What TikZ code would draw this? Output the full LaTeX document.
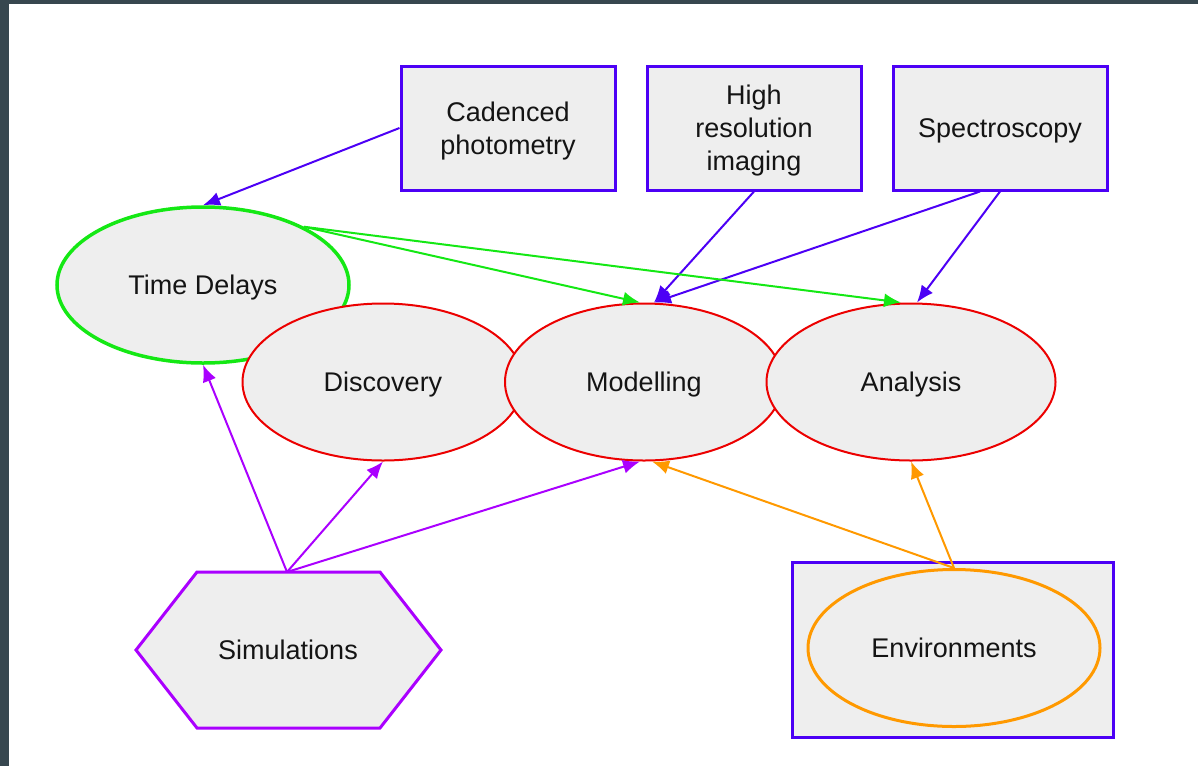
\documentclass[tikz,border=0pt]{standalone}
\usepackage{fontspec}
\setmainfont{Liberation Sans}
\usetikzlibrary{shapes.geometric,arrows.meta}
\definecolor{frame}{HTML}{37474F}
\definecolor{panel}{HTML}{EEEEEE}
\definecolor{boxblue}{RGB}{76,0,245}
\definecolor{tdgreen}{RGB}{20,232,20}
\definecolor{topicred}{RGB}{236,0,0}
\definecolor{simpurple}{RGB}{170,0,255}
\definecolor{envorange}{RGB}{255,153,0}
\begin{document}
\begin{tikzpicture}[x=0.5pt, y=-0.5pt,
		every node/.style={font=\fontsize{13.5}{16.5}\selectfont, align=center, inner sep=0pt, text depth=0pt, text=black!92},
		sourcebox/.style={draw=boxblue, line width=1.5pt, fill=panel, minimum width=107pt, minimum height=62pt},
		topic/.style={ellipse, draw=topicred, line width=1pt, fill=panel, minimum height=78.5pt},
		link/.style={-{Latex[length=8.5pt,width=7pt]}, line width=1pt}]
		\useasboundingbox (0,0) rectangle (1198,766);
		\fill[frame] (0,0) rectangle (1198,4);
		\fill[frame] (0,0) rectangle (9,766);
		% data sources
		\node (cad) at (508,128) [sourcebox] {Cadenced\\photometry};
		\node (hri) at (754,128) [sourcebox] {High\\resolution\\imaging};
		\node (spec) at (1000,128) [sourcebox] {Spectroscopy};
		% science topics
		\node (td) at (203,285) [ellipse, draw=tdgreen, line width=1.75pt, fill=panel, minimum width=146pt, minimum height=78pt] {Time Delays};
		\node (disc) at (383,382) [topic, minimum width=140.5pt] {Discovery};
		\node (mod) at (644,382) [topic, minimum width=139pt] {Modelling};
		\node (ana) at (911,382) [topic, minimum width=144.5pt] {Analysis};
		% simulations
		\filldraw[draw=simpurple, fill=panel, line width=1.5pt] (136,650) -- (197,572) -- (380,572) -- (441,650) -- (380,728) -- (197,728) -- cycle;
		\node (sim) at (288,650) {Simulations};
		\coordinate (simtop) at (287,572);
		% environments
		\node (envbox) at (952.5,649.5) [draw=boxblue, line width=1.5pt, fill=panel, minimum width=160.5pt, minimum height=87.5pt] {};
		\node (env) at (954,648) [ellipse, draw=envorange, line width=1.5pt, fill=panel, minimum width=146pt, minimum height=78.5pt] {Environments};
		% links
		\draw[link, boxblue] (cad.west) -- (td.north);
		\draw[link, boxblue] (hri.south) -- ([xshift=5pt]mod.north);
		\draw[link, boxblue] ([xshift=-10pt]spec.south) -- ([xshift=5pt]mod.north);
		\draw[link, boxblue] (spec.south) -- ([xshift=3pt]ana.north);
		\draw[link, tdgreen] (td.30) -- ([xshift=-2pt]mod.north);
		\draw[link, tdgreen] (td.30) -- ([xshift=-5pt]ana.north);
		\draw[link, simpurple] (simtop) -- (td.south);
		\draw[link, simpurple] (simtop) -- (disc.south);
		\draw[link, simpurple] (simtop) -- ([xshift=-2pt]mod.south);
		\draw[link, envorange] (env.north) -- ([xshift=4pt]mod.south);
		\draw[link, envorange] (env.north) -- (ana.south);
\end{tikzpicture}
\end{document}
